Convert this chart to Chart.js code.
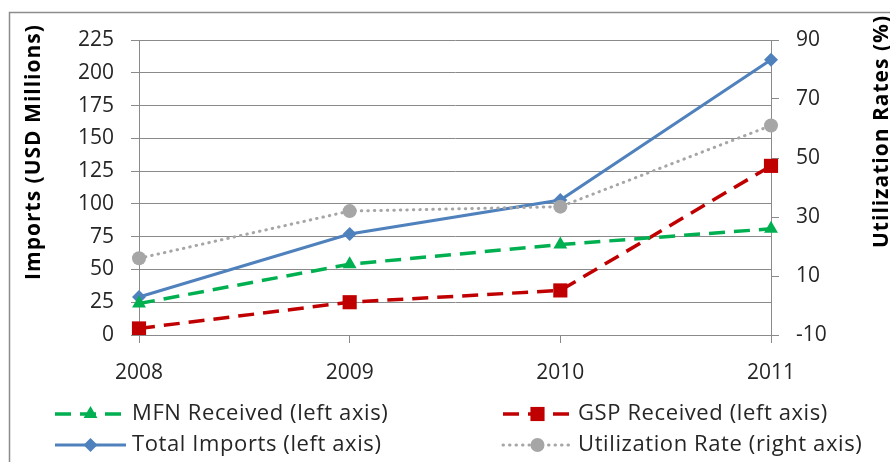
<!DOCTYPE html>
<html>
<head>
<meta charset="utf-8">
<script src="https://cdn.jsdelivr.net/npm/chart.js@4.4.1/dist/chart.umd.min.js"></script>
<style>
  html, body { margin: 0; padding: 0; background: #ffffff; }
  #wrap { width: 890px; height: 462px; position: relative; }
</style>
</head>
<body>
<div id="wrap"><canvas id="chart"></canvas></div>
<script>
// Imports by preference type, 2008-2011 (USD millions) and GSP utilization rate (%)
const years = ['2008', '2009', '2010', '2011'];
const mfnReceived = [24, 54, 69, 81];
const gspReceived = [5, 25, 34, 129];
const totalImports = [29, 77, 103, 210];
const utilizationRate = [16, 32, 33.5, 61];

const leftAxisTitle = 'Imports (USD Millions)';
const rightAxisTitle = 'Utilization Rates (%)';

const FONT = '"Open Sans", Lato, sans-serif';
const GRID = '#8a8a8a';
const TEXT = '#262626';

const series = [
  { label: 'MFN Received (left axis)', data: mfnReceived, axis: 'y', color: '#00B050',
    dash: [16, 9], width: 3.5, point: 'triangle', radius: 8 },
  { label: 'GSP Received (left axis)', data: gspReceived, axis: 'y', color: '#C00000',
    dash: [16, 9], width: 3.5, point: 'rect', radius: 10 },
  { label: 'Total Imports (left axis)', data: totalImports, axis: 'y', color: '#4F81BD',
    dash: [], width: 3, point: 'rectRot', radius: 7 },
  { label: 'Utilization Rate (right axis)', data: utilizationRate, axis: 'y1', color: '#A6A6A6',
    dash: [0.5, 6], width: 3, point: 'circle', radius: 7, cap: 'round' }
];

// Draw order: utilization behind, then the import series
const drawOrder = [3, 0, 1, 2];

function marker(ctx, style, x, y, r, color) {
  ctx.save();
  ctx.setLineDash([]);
  ctx.fillStyle = color;
  ctx.beginPath();
  if (style === 'triangle') {
    ctx.moveTo(x, y - r);
    ctx.lineTo(x + r * 0.866, y + r * 0.5);
    ctx.lineTo(x - r * 0.866, y + r * 0.5);
    ctx.closePath();
  } else if (style === 'rect') {
    const s = r * Math.SQRT1_2;
    ctx.rect(x - s, y - s, 2 * s, 2 * s);
  } else if (style === 'rectRot') {
    ctx.moveTo(x, y - r);
    ctx.lineTo(x + r, y);
    ctx.lineTo(x, y + r);
    ctx.lineTo(x - r, y);
    ctx.closePath();
  } else {
    ctx.arc(x, y, r, 0, Math.PI * 2);
  }
  ctx.fill();
  ctx.restore();
}

const decorations = {
  id: 'decorations',
  beforeDraw(chart) {
    const ctx = chart.ctx;
    ctx.save();
    ctx.fillStyle = '#ffffff';
    ctx.fillRect(0, 0, chart.width, chart.height);
    ctx.strokeStyle = '#8c8c8c';
    ctx.lineWidth = 1.5;
    ctx.strokeRect(9.5, 12.5, 1000, 600);
    ctx.restore();
  },
  afterDraw(chart) {
    const ctx = chart.ctx;
    ctx.save();
    // axis titles
    ctx.fillStyle = '#000000';
    ctx.font = 'bold 21px ' + FONT;
    ctx.letterSpacing = '1px';
    ctx.textBaseline = 'middle';
    ctx.textAlign = 'center';
    ctx.save();
    ctx.translate(34, 152);
    ctx.rotate(-Math.PI / 2);
    ctx.fillText(leftAxisTitle, 0, 0);
    ctx.restore();
    ctx.save();
    ctx.translate(882, 248);
    ctx.rotate(-Math.PI / 2);
    ctx.textAlign = 'left';
    ctx.fillText(rightAxisTitle, 0, 0);
    ctx.restore();

    // legend: two columns, two rows
    const slots = [
      { i: 0, x0: 55, x1: 126, y: 414 },
      { i: 1, x0: 503, x1: 572, y: 414 },
      { i: 2, x0: 55, x1: 126, y: 445 },
      { i: 3, x0: 503, x1: 572, y: 445 }
    ];
    ctx.letterSpacing = '0.6px';
    slots.forEach(s => {
      const d = series[s.i];
      ctx.save();
      ctx.strokeStyle = d.color;
      ctx.lineWidth = d.width;
      ctx.lineCap = d.cap || 'butt';
      ctx.setLineDash(d.dash);
      ctx.beginPath();
      ctx.moveTo(s.x0, s.y);
      ctx.lineTo(s.x1, s.y);
      ctx.stroke();
      ctx.restore();
      marker(ctx, d.point, (s.x0 + s.x1) / 2, s.y, d.radius, d.color);
      ctx.fillStyle = TEXT;
      ctx.font = '22px ' + FONT;
      ctx.textAlign = 'left';
      ctx.textBaseline = 'middle';
      ctx.fillText(d.label, s.x1 + 6, s.y);
    });
    ctx.restore();
  }
};

const datasets = drawOrder.map(i => {
  const d = series[i];
  return {
    label: d.label,
    data: d.data,
    yAxisID: d.axis,
    borderColor: d.color,
    backgroundColor: d.color,
    borderWidth: d.width,
    borderDash: d.dash,
    borderCapStyle: d.cap || 'butt',
    pointStyle: d.point,
    pointRadius: d.radius,
    pointBorderWidth: 0,
    pointBackgroundColor: d.color,
    pointBorderColor: d.color,
    tension: 0,
    fill: false
  };
});

new Chart(document.getElementById('chart'), {
  type: 'line',
  data: { labels: years, datasets },
  plugins: [decorations],
  options: {
    responsive: true,
    maintainAspectRatio: false,
    animation: false,
    devicePixelRatio: 1,
    layout: { padding: { top: 40, left: 0, right: 0, bottom: 0 } },
    plugins: { legend: { display: false }, tooltip: { enabled: false } },
    scales: {
      x: {
        offset: false,
        afterFit(scale) { scale.height = 127; },
        grid: { drawOnChartArea: false, drawTicks: true, tickLength: 8, color: GRID },
        border: { color: GRID },
        ticks: { color: TEXT, font: { family: FONT, size: 21 }, padding: 17, maxRotation: 0 }
      },
      y: {
        position: 'left',
        min: 0, max: 225,
        afterFit(scale) { scale.width = 139; },
        ticks: { stepSize: 25, color: TEXT, font: { family: FONT, size: 21 }, padding: 17 },
        grid: { color: GRID, tickLength: 8 },
        border: { color: GRID }
      },
      y1: {
        position: 'right',
        min: -10, max: 90,
        afterFit(scale) { scale.width = 119; },
        ticks: { stepSize: 20, color: TEXT, font: { family: FONT, size: 21 }, padding: 17 },
        grid: { drawOnChartArea: false, color: GRID, tickLength: 8 },
        border: { color: GRID }
      }
    }
  }
});
</script>
</body>
</html>
